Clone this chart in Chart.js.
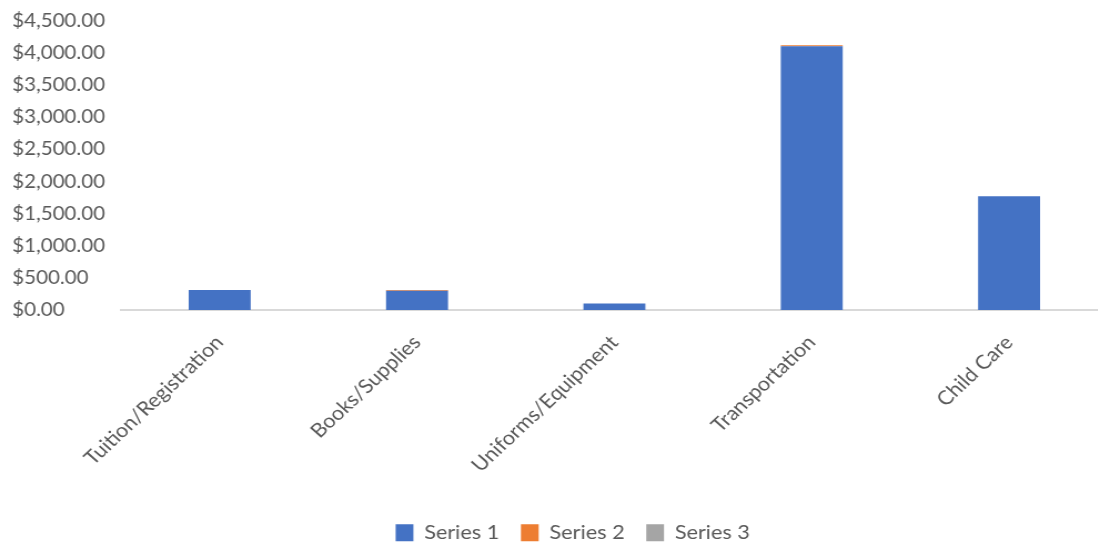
<!DOCTYPE html>
<html>
<head>
<meta charset="utf-8">
<script src="https://cdn.jsdelivr.net/npm/chart.js@4"></script>
<style>
html,body{margin:0;padding:0;background:#fff;overflow:hidden;}
#wrap{width:1000px;height:547px;position:relative;transform:scaleX(1.11);transform-origin:0 0;}
</style>
</head>
<body>
<div id="wrap"><canvas id="c"></canvas></div>
<script>
const categories = ["Tuition/Registration", "Books/Supplies", "Uniforms/Equipment", "Transportation", "Child Care"];
const series1 = [310, 300, 100, 4110, 1770];
const series2 = [0, 12, 0, 15, 0];
const series3 = [0, 0, 0, 0, 0];
const seriesNames = ["Series 1", "Series 2", "Series 3"];
const yTicks = [0, 500, 1000, 1500, 2000, 2500, 3000, 3500, 4000, 4500];

const fontFamily = "Lato, 'Open Sans', sans-serif";
const fontSize = 18.5;
const catFontSize = 19.5;
const txt = '#595959';

const legendPlace = {
  id: 'legendPlace',
  afterLayout(chart) {
    const lg = chart.legend;
    if (!lg) return;
    const dx = 516 - (lg.left + lg.right) / 2;
    const dy = 528 - (lg.top + lg.bottom) / 2;
    lg.left += dx; lg.right += dx;
    lg.top += dy; lg.bottom += dy;
  }
};

new Chart(document.getElementById('c'), {
  type: 'bar',
  data: {
    labels: categories,
    datasets: [
      {label: seriesNames[0], data: series1, backgroundColor: '#4472C4'},
      {label: seriesNames[1], data: series2, backgroundColor: '#ED7D31'},
      {label: seriesNames[2], data: series3, backgroundColor: '#A5A5A5'}
    ]
  },
  plugins: [legendPlace],
  options: {
    responsive: true,
    maintainAspectRatio: false,
    animation: false,
    layout: {padding: {left: 11, right: 2, top: 14.5, bottom: 0}},
    datasets: {bar: {categoryPercentage: 1, barPercentage: 0.314}},
    scales: {
      x: {
        stacked: true,
        grid: {display: false, drawTicks: false},
        border: {display: true, color: '#D9D9D9', width: 2},
        ticks: {color: txt, font: {family: fontFamily, size: catFontSize}, maxRotation: 46, minRotation: 46, padding: 21},
        afterFit: (ax) => { ax.height = 188; }
      },
      y: {
        stacked: true,
        min: 0, max: 4500,
        afterBuildTicks: (ax) => { ax.ticks = yTicks.map(v => ({value: v})); },
        afterFit: (ax) => { ax.width = 98; },
        grid: {display: false, drawTicks: false},
        border: {display: false},
        ticks: {
          color: txt, font: {family: fontFamily, size: fontSize}, padding: 10, crossAlign: 'far',
          callback: (v) => '$' + Number(v).toLocaleString('en-US', {minimumFractionDigits: 2, maximumFractionDigits: 2})
        }
      }
    },
    plugins: {
      legend: {
        position: 'bottom',
        labels: {color: txt, font: {family: fontFamily, size: catFontSize}, boxWidth: 16, boxHeight: 17, padding: 19.5}
      },
      tooltip: {enabled: false}
    }
  }
});
</script>
</body>
</html>
